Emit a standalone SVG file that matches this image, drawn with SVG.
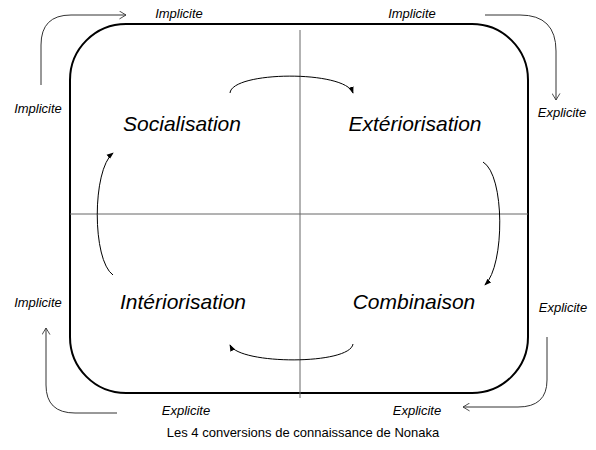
<svg xmlns="http://www.w3.org/2000/svg" width="596" height="450" viewBox="0 0 596 450">
<style>
.big{font-family:"Liberation Sans",Arial,sans-serif;font-style:italic;font-size:21px;fill:#000;text-anchor:middle}
.sm{font-family:"Liberation Sans",Arial,sans-serif;font-style:italic;font-size:13px;fill:#000;text-anchor:middle}
.cap{font-family:"Liberation Sans",Arial,sans-serif;font-size:13px;fill:#000;text-anchor:middle}
.div{stroke:#666;stroke-width:1;fill:none}
.arc{stroke:#000;stroke-width:1;fill:none;marker-end:url(#fa)}
.out{stroke:#333;stroke-width:1;fill:none;marker-end:url(#oa)}
</style>
<defs>
<marker id="fa" viewBox="0 0 8 6" refX="7" refY="3" markerWidth="7" markerHeight="6" markerUnits="userSpaceOnUse" orient="auto">
<path d="M0,0 L8,3 L0,6 z" fill="#000"/>
</marker>
<marker id="oa" viewBox="0 0 8 10" refX="7.5" refY="5" markerWidth="7" markerHeight="9" markerUnits="userSpaceOnUse" orient="auto">
<path d="M0,0.5 L7.5,5 L0,9.5" fill="none" stroke="#333" stroke-width="1"/>
</marker>
</defs>
<g id="frame">
<rect x="70" y="24" width="458" height="369" rx="56" ry="56" fill="none" stroke="#000" stroke-width="2"/>
</g>
<g id="dividers">
<line class="div" x1="300" y1="30" x2="300" y2="398"/>
<line class="div" x1="70" y1="214" x2="528" y2="214"/>
</g>
<g id="socialisation"><text class="big" x="182" y="131">Socialisation</text></g>
<g id="exteriorisation"><text class="big" x="415" y="131">Extériorisation</text></g>
<g id="interiorisation"><text class="big" x="183" y="309">Intériorisation</text></g>
<g id="combinaison"><text class="big" x="414" y="309">Combinaison</text></g>
<g id="connectors">
<path class="arc" d="M230,93 C232,71 345,70 353,93"/>
<path class="arc" d="M483,162 C505,175 505,265 485,285"/>
<path class="arc" d="M353,344 C350,365 240,365 230,345"/>
<path class="arc" d="M113,275 C92,260 92,170 113,153"/>
<path class="out" d="M41,85 V45 Q41,15 71,15 H126"/>
<path class="out" d="M485,15 H520 Q556,15 556,51 V100"/>
<path class="out" d="M547,337 V380 Q547,407 518,407 H463" stroke="#555"/>
<path class="out" d="M117,413 H75 Q46,413 46,385 V328" stroke="#555"/>
</g>
<g id="labels">
<text class="sm" x="179" y="18">Implicite</text>
<text class="sm" x="412" y="18">Implicite</text>
<text class="sm" x="38" y="113">Implicite</text>
<text class="sm" x="562" y="117">Explicite</text>
<text class="sm" x="38" y="307">Implicite</text>
<text class="sm" x="563" y="312">Explicite</text>
<text class="sm" x="186" y="415">Explicite</text>
<text class="sm" x="417" y="415">Explicite</text>
</g>
<g id="caption"><text class="cap" x="303" y="437">Les 4 conversions de connaissance de Nonaka</text></g>
</svg>
